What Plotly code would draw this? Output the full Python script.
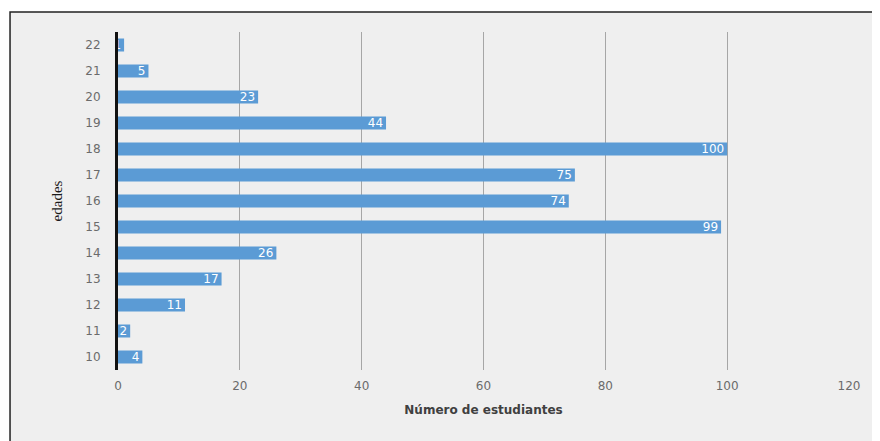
import plotly.graph_objects as go

edades = ["10", "11", "12", "13", "14", "15", "16", "17", "18", "19", "20", "21", "22"]
estudiantes = [4, 2, 11, 17, 26, 99, 74, 75, 100, 44, 23, 5, 1]
x_ticks = [0, 20, 40, 60, 80, 100, 120]

fig = go.Figure()
fig.add_trace(go.Bar(
    y=edades, x=estudiantes, orientation="h",
    marker=dict(color="#5b9bd5", line=dict(width=0)),
    width=0.5,
    text=[str(v) for v in estudiantes], textposition="inside",
    insidetextanchor="end", textangle=0, constraintext="none",
    textfont=dict(color="white", size=12, family="DejaVu Sans"),
    cliponaxis=False,
))

fig.add_shape(type="rect", xref="paper", yref="paper",
              x0=-0.1477, x1=1.2, y0=-0.3, y1=1.059,
              fillcolor="#efefef", line=dict(color="#222222", width=1.5),
              layer="below")

fig.update_layout(
    width=872, height=433,
    margin=dict(l=110, r=31, t=24, b=71),
    paper_bgcolor="white", plot_bgcolor="rgba(0,0,0,0)",
    showlegend=False, bargap=0.5,
    font=dict(family="DejaVu Sans", color="#6b6b6b", size=12),
    xaxis=dict(range=[0, 120], tickvals=x_ticks, showgrid=True,
               gridcolor="#a6a6a6", gridwidth=1, zeroline=False,
               ticks="", automargin=False, ticklabelstandoff=7,
               tickfont=dict(size=12, color="#6b6b6b"),
               title=dict(text="<b>Número de estudiantes</b>",
                          font=dict(size=12, color="#404040"), standoff=13)),
    yaxis=dict(type="category", showgrid=False, showline=True,
               linecolor="#111111", linewidth=3, ticks="",
               automargin=False, ticklabelstandoff=12,
               tickfont=dict(size=12, color="#6b6b6b"),
               title=dict(text="edades", font=dict(size=15, color="#1a1a1a",
                          family="Liberation Serif"), standoff=20)),
)

fig.write_html("out.html")
